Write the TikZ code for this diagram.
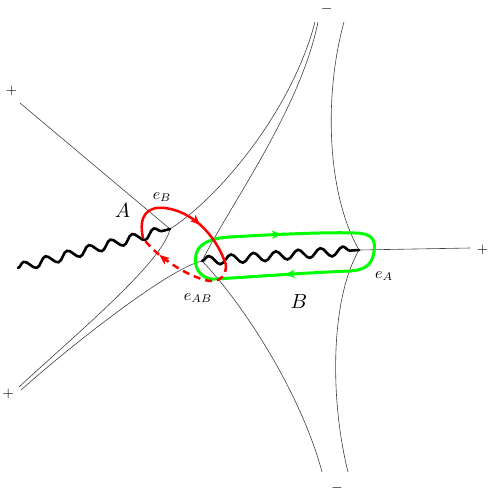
\RequirePackage{fix-cm}
\documentclass[tikz,border=0pt]{standalone}
\usetikzlibrary{decorations.pathmorphing,decorations.markings,arrows.meta}
\tikzset{mytip/.tip={Stealth[length=10pt,width=8pt,inset=2.5pt]}}
\begin{document}
\begin{tikzpicture}[x=1pt,y=-1pt,
  thinline/.style={line width=0.6pt, black!75},
  wavy/.style={line width=2.6pt, line cap=round, decorate,
    decoration={snake, segment length=22.4pt, amplitude=4.5pt}},
  redloop/.style={line width=2.5pt, red},
  greenloop/.style={line width=3pt, green, line cap=round},
  lab/.style={inner sep=0pt, scale=1.6},
  big/.style={inner sep=0pt, scale=2.05},
  sign/.style={inner sep=0pt, scale=1.45}]
\useasboundingbox (0,0) rectangle (491,498);

% branch points and free ends
\coordinate (V1) at (170,229);
\coordinate (V2) at (202,261);
\coordinate (V3) at (359,250);
\coordinate (TL) at (20,103);
\coordinate (T1) at (315,22);
\coordinate (T2) at (318,22);
\coordinate (T3) at (344,22);
\coordinate (BL1) at (19,387);
\coordinate (BL2) at (21,390);
\coordinate (B1) at (322,472);
\coordinate (B2) at (348,472);
\coordinate (R) at (470,248);
\coordinate (W0) at (18,268);

% thin lines
\draw[thinline] (TL) -- (V1);
\draw[thinline] (V1) .. controls (220,197) and (292,110) .. (T1);
\draw[thinline] (V2) .. controls (230,205) and (300,110) .. (T2);
\draw[thinline] (V1) .. controls (163,262) and (75,335) .. (BL1);
\draw[thinline] (V2) .. controls (170,268) and (75,342) .. (BL2);
\draw[thinline] (V2) .. controls (240,300) and (300,390) .. (B1);
\draw[thinline] (V3) .. controls (325,190) and (325,90) .. (T3);
\draw[thinline] (V3) .. controls (330,300) and (330,400) .. (B2);
\draw[thinline] (V3) -- (R);

% green loop B
\draw[greenloop, postaction={decorate}, decoration={markings,
    mark=at position 52pt with {\arrow{mytip}},
    mark=at position 257pt with {\arrow{mytip}}}]
  (230,237) .. controls (280,234) and (330,232) .. (355,233)
  .. controls (372,233) and (376,240) .. (374,252)
  .. controls (372,265) and (365,270) .. (350,271)
  .. controls (300,273) and (250,277) .. (215,279)
  .. controls (200,280) and (193,266) .. (196,255)
  .. controls (198,244) and (210,238) .. (230,237) -- cycle;

% wavy cuts
\draw[wavy] (W0) -- (V1);
\draw[wavy] (V2) -- (V3);

% red loop A
\draw[redloop, postaction={decorate}, decoration={markings,
    mark=at position 0.64 with {\arrow{mytip}}}]
  (143,238) .. controls (138,215) and (148,206) .. (165,208)
  .. controls (190,211) and (215,232) .. (226,265);
\draw[redloop, dash pattern=on 7pt off 5pt, postaction={decorate}, decoration={markings,
    mark=at position 0.78 with {\arrow[solid]{mytip}}}]
  (226,265) .. controls (226,280) and (215,283) .. (205,280)
  .. controls (185,275) and (155,255) .. (143,238);

% labels
\node[lab] (eB) at (162,197) {$e_B$};
\node[big] (A) at (122.5,210) {$A$};
\node[lab] (eAB) at (198,298) {$e_{AB}$};
\node[big] (B) at (299,301) {$B$};
\node[lab] (eA) at (384,276) {$e_A$};

% signs
\node[sign] (p1) at (11.5,90.5) {$+$};
\node[sign] (p2) at (8.3,394) {$+$};
\node[sign] (p3) at (482.5,250) {$+$};
\node[sign] (m1) at (326.7,9) {$-$};
\node[sign] (m2) at (337,488) {$-$};
\end{tikzpicture}
\end{document}
